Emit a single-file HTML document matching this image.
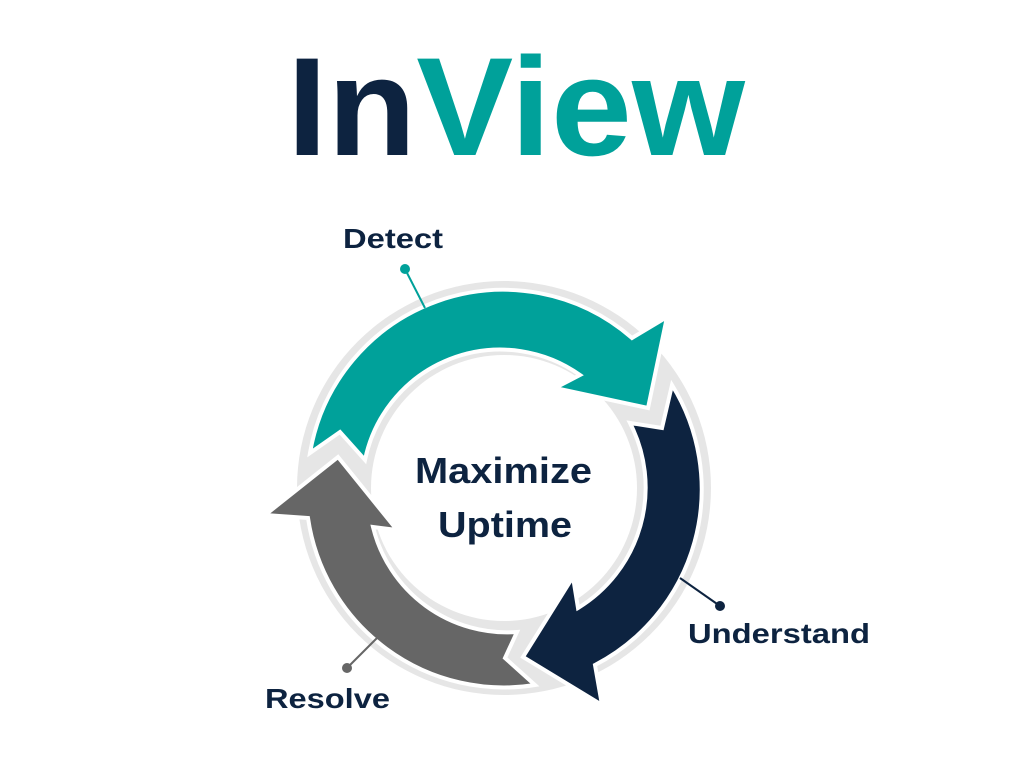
<!DOCTYPE html>
<html><head><meta charset="utf-8"><style>html,body{margin:0;padding:0;background:#fff}svg{display:block}</style></head>
<body>
<svg width="1024" height="768" viewBox="0 0 1024 768" xmlns="http://www.w3.org/2000/svg" font-family="Liberation Sans, Arial, sans-serif" font-weight="bold">
<text x="287" y="155" font-size="140" textLength="458" lengthAdjust="spacingAndGlyphs"><tspan fill="#0d2340">In</tspan><tspan fill="#00a19a">View</tspan></text>
<circle cx="504" cy="488" r="207" fill="#e6e6e6"/>
<circle cx="504" cy="488" r="133" fill="#fff"/>
<g stroke="#fff" stroke-width="4" stroke-linejoin="miter">
<path fill="#00a19a" d="M 310,453 A 196 196 0 0 1 632,338 L 667,317 L 648,408 L 555,388 L 580,375 A 138 138 0 0 0 365,460 L 340,432 Z"/>
<path fill="#0d2340" d="M 672,385 A 198 198 0 0 1 595,665 L 602,705 L 523,657 L 573,577 L 578,608 A 141 141 0 0 0 630,423 L 662,428 Z"/>
<path fill="#666666" d="M 535,685 A 198 198 0 0 1 308,518 L 265,515 L 338,457 L 397,530 L 373,527 A 138 138 0 0 0 517,632 L 505,658 Z"/>
</g>
<line x1="405" y1="269" x2="425" y2="308" stroke="#00a19a" stroke-width="2"/>
<circle cx="405" cy="269" r="5" fill="#00a19a"/>
<line x1="720" y1="606" x2="680" y2="578" stroke="#0d2340" stroke-width="2"/>
<circle cx="720" cy="606" r="5" fill="#0d2340"/>
<line x1="347" y1="668" x2="377" y2="638" stroke="#666" stroke-width="2"/>
<circle cx="347" cy="668" r="5" fill="#666"/>
<g fill="#0d2340">
<text x="343" y="248" font-size="28" textLength="100" lengthAdjust="spacingAndGlyphs">Detect</text>
<text x="415" y="483" font-size="36" textLength="177" lengthAdjust="spacingAndGlyphs">Maximize</text>
<text x="438" y="537" font-size="36" textLength="134" lengthAdjust="spacingAndGlyphs">Uptime</text>
<text x="688" y="643" font-size="28" textLength="182" lengthAdjust="spacingAndGlyphs">Understand</text>
<text x="265" y="708" font-size="28" textLength="125" lengthAdjust="spacingAndGlyphs">Resolve</text>
</g>
</svg>
</body></html>
